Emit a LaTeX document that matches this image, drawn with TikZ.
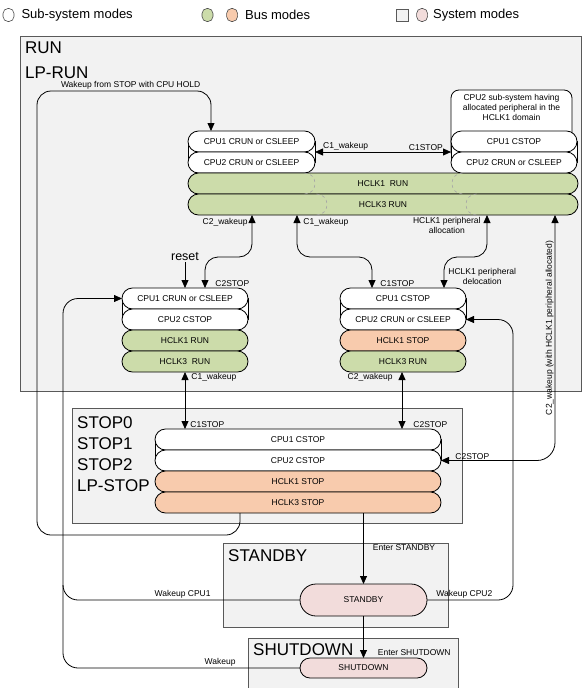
\documentclass[tikz,border=0pt]{standalone}
\usepackage{fontspec}
\setmainfont{Liberation Sans}
\usetikzlibrary{arrows.meta,positioning,calc}
\definecolor{BoxGray}{HTML}{F2F2F2}
\definecolor{BoxLine}{HTML}{595959}
\definecolor{BusGreen}{HTML}{CCDCAA}
\definecolor{BusOrange}{HTML}{F8CBAD}
\definecolor{SysPink}{HTML}{F2DCDB}
\definecolor{SeamGray}{HTML}{A6A6A6}
\newcommand{\tagfont}{\fontsize{8.5}{10}\selectfont}
\newcommand{\modefont}{\fontsize{17}{21}\selectfont}

\begin{document}
\begin{tikzpicture}[
    x=1pt, y=-1pt,
    modebox/.style={draw=BoxLine, fill=BoxGray, line width=0.8pt},
    modetitle/.style={font=\modefont, align=left, inner sep=0pt, anchor=base west},
    moderow/.style={draw, line width=0.8pt, rounded corners=10.5pt, minimum height=21pt, inner sep=0pt, outer sep=0pt, anchor=north west, font=\tagfont},
    cpurow/.style={moderow, fill=white},
    runrow/.style={moderow, fill=BusGreen},
    stoprow/.style={moderow, fill=BusOrange},
    backing/.style={draw, fill=white, line width=0.8pt, minimum height=21pt, inner sep=0pt, outer sep=0pt, anchor=north west},
    sysmode/.style={draw, line width=0.8pt, fill=SysPink, minimum width=127pt, inner sep=0pt, outer sep=0pt, font=\tagfont},
    seam/.style={draw=SeamGray, dashed, line width=0.6pt},
    link/.style={line width=0.8pt, rounded corners=13pt},
    arrow/.style={link, -{Triangle[length=8pt,width=7pt]}},
    twoway/.style={link, {Triangle[length=8pt,width=7pt]}-{Triangle[length=8pt,width=7pt]}},
    tag/.style={font=\tagfont, inner sep=1pt},
    legendkey/.style={draw=black!70, line width=0.6pt, minimum width=11pt, minimum height=13pt, inner sep=0pt, rounded corners=5pt},
    keytext/.style={font=\fontsize{13}{15}\selectfont, inner sep=0pt}
]
\useasboundingbox (0,0) rectangle (582,688);

% legend
\node[legendkey, fill=white] (keySub) at (8.5,15) {};
\node[keytext, right=7pt of keySub] (keySubText) {Sub-system modes};
\node[legendkey, fill=BusGreen] (keyBusRun) at (207.5,15) {};
\node[legendkey, fill=BusOrange, right=13pt of keyBusRun] (keyBusStop) {};
\node[keytext, right=7pt of keyBusStop] (keyBusText) {Bus modes};
\node[legendkey, fill=BoxGray, draw=BoxLine, rounded corners=0pt, minimum width=12pt, minimum height=12pt] (keySysBox) at (402,15) {};
\node[legendkey, fill=SysPink, right=8pt of keySysBox] (keySysNode) {};
\node[keytext, right=5pt of keySysNode] (keySysText) {System modes};

% system mode areas
\draw[modebox] (20,36) rectangle (581,391);
\draw[modebox] (72,408) rectangle (462,523);
\draw[modebox] (223,543) rectangle (448,627);
\draw[modebox] (248,638) rectangle (458,700);
\node[modetitle, font=\fontsize{17}{25}\selectfont] (runTitle) at (25,78) {RUN\\LP-RUN};
\node[modetitle] (stopTitle) at (77,491) {STOP0\\STOP1\\STOP2\\LP-STOP};
\node[modetitle] (standbyTitle) at (228,561) {STANDBY};
\node[modetitle] (shutdownTitle) at (253,655) {SHUTDOWN};

% RUN: both CPUs running
\node[backing, minimum width=127pt] (runPair) at (188,141.5) {};
\node[cpurow, minimum width=127pt, anchor=south west] (runCpuA) at (runPair.west) {CPU1 CRUN or CSLEEP};
\node[cpurow, minimum width=127pt] (runCpuB) at (runPair.west) {CPU2 CRUN or CSLEEP};
\node[runrow, minimum width=390pt] (runHclkA) at (runCpuB.south west) {HCLK1~ RUN};
\node[runrow, minimum width=390pt] (runHclkB) at (runHclkA.south west) {HCLK3 RUN};

% RUN: CPU2 sub-system with HCLK1 peripheral
\node[draw, fill=white, line width=0.8pt, rounded corners=8pt, minimum width=121pt, minimum height=70pt, anchor=north west, outer sep=0pt] (cpu2Domain) at (451,90) {};
\node[tag, align=center, below=3pt of cpu2Domain.north] (cpu2DomainText) {CPU2 sub-system having\\allocated peripheral in the\\HCLK1 domain};
\node[backing, minimum width=126pt] (rightPair) at (451,141.5) {};
\node[cpurow, minimum width=126pt, anchor=south west] (rightCpuA) at (rightPair.west) {CPU1 CSTOP};
\node[cpurow, minimum width=126pt] (rightCpuB) at (rightPair.west) {CPU2 CRUN or CSLEEP};

\draw[seam] ($(runHclkA.north west)+(116.5,0)$) .. controls +(14,0) and +(14,0) .. ($(runHclkA.south west)+(116.5,0)$);
\draw[seam] ($(runHclkB.north west)+(128.5,0)$) .. controls +(14,0) and +(14,0) .. ($(runHclkB.south west)+(128.5,0)$);
\draw[seam] ($(runHclkA.north west)+(274.5,0)$) .. controls +(-14,0) and +(-14,0) .. ($(runHclkA.south west)+(274.5,0)$);
\draw[seam] ($(runHclkB.north west)+(288.5,0)$) .. controls +(-14,0) and +(-14,0) .. ($(runHclkB.south west)+(288.5,0)$);

% RUN: CPU2 stopped
\node[backing, minimum width=126pt] (leftPair) at (122,298.5) {};
\node[cpurow, minimum width=126pt, anchor=south west] (leftCpuA) at (leftPair.west) {CPU1 CRUN or CSLEEP};
\node[cpurow, minimum width=126pt] (leftCpuB) at (leftPair.west) {CPU2 CSTOP};
\node[runrow, minimum width=126pt] (leftHclkA) at (leftCpuB.south west) {HCLK1 RUN};
\node[runrow, minimum width=126pt] (leftHclkB) at (leftHclkA.south west) {HCLK3~ RUN};

% RUN: CPU1 stopped
\node[backing, minimum width=126pt] (midPair) at (340,298.5) {};
\node[cpurow, minimum width=126pt, anchor=south west] (midCpuA) at (midPair.west) {CPU1 CSTOP};
\node[cpurow, minimum width=126pt] (midCpuB) at (midPair.west) {CPU2 CRUN or CSLEEP};
\node[stoprow, minimum width=126pt] (midHclkA) at (midCpuB.south west) {HCLK1 STOP};
\node[runrow, minimum width=126pt] (midHclkB) at (midHclkA.south west) {HCLK3 RUN};

% STOP
\node[backing, minimum width=286pt] (stopPair) at (155,439.5) {};
\node[cpurow, minimum width=286pt, anchor=south west] (stopCpuA) at (stopPair.west) {CPU1 CSTOP};
\node[cpurow, minimum width=286pt] (stopCpuB) at (stopPair.west) {CPU2 CSTOP};
\node[stoprow, minimum width=286pt] (stopHclkA) at (stopCpuB.south west) {HCLK1 STOP};
\node[stoprow, minimum width=286pt] (stopHclkB) at (stopHclkA.south west) {HCLK3 STOP};

% STANDBY and SHUTDOWN
\node[sysmode, minimum height=32pt, rounded corners=16pt] (standby) at (363.5,600) {STANDBY};
\node[sysmode, minimum height=20pt, rounded corners=10pt] (shutdown) at (363.5,668) {SHUTDOWN};

% transitions
\draw[twoway] (runCpuA.south east) -- (rightCpuA.south west)
    node[tag, pos=0.05, anchor=south west] {C1\_wakeup}
    node[tag, pos=0.95, anchor=south east] {C1STOP};
\draw[twoway] ($(leftCpuA.north west)+(83,0)$) node[tag, anchor=south west, xshift=9pt] {C2STOP}
    |- ($(runHclkB.south west)+(64,42)$) -- ($(runHclkB.south west)+(64,0)$)
    node[tag, anchor=north east, xshift=-3pt, yshift=-2pt] {C2\_wakeup};
\node[font=\fontsize{12.5}{14}\selectfont, inner sep=1pt] (reset) at (185,257) {reset};
\draw[arrow] (reset) -- (reset |- leftCpuA.north);
\draw[twoway] ($(runHclkB.south west)+(109,0)$) node[tag, anchor=north west, xshift=5pt, yshift=-2pt] {C1\_wakeup}
    |- ($(midCpuA.north west)+(32,-31)$) -- ($(midCpuA.north west)+(32,0)$)
    node[tag, anchor=south west, xshift=7pt] {C1STOP};
\draw[twoway] ($(runHclkB.south west)+(299,0)$) node[tag, align=center, anchor=north east, xshift=-5pt, yshift=-1pt] {HCLK1 peripheral\\allocation}
    |- ($(midCpuA.north west)+(104,-31)$) -- ($(midCpuA.north west)+(104,0)$)
    node[tag, align=center, anchor=south west, xshift=3pt, yshift=2pt] {HCLK1 peripheral\\delocation};
\draw[twoway, rounded corners=18pt] ($(runHclkB.south west)+(367,0)$) |- (stopCpuB.east)
    node[tag, pos=0.23, rotate=90, anchor=south] {C2\_wakeup (with HCLK1 peripheral allocated)}
    node[tag, pos=1, anchor=south west, xshift=13pt] {C2STOP};
\draw[twoway] ($(leftHclkB.south west)+(63,0)$) node[tag, anchor=north west, xshift=5pt] {C1\_wakeup}
    -- ($(stopCpuA.north west)+(30,0)$) node[tag, anchor=south west, xshift=4pt] {C1STOP};
\draw[twoway] ($(midHclkB.south west)+(62,0)$) node[tag, anchor=north east, xshift=-8pt] {C2\_wakeup}
    -- ($(stopCpuA.north west)+(247,0)$) node[tag, anchor=south west, xshift=10pt] {C2STOP};
\draw[arrow, rounded corners=14pt] ($(stopHclkB.south west)+(85,0)$) -- ++(0,22) -- ++(-203,0) -- ++(0,-444)
    -- ++(174,0) node[tag, pos=0.13, anchor=south west] {Wakeup from STOP with CPU HOLD}
    -- ($(runCpuA.north west)+(23,0)$);
\draw[arrow] (standby.north |- stopHclkB.south) -- (standby.north)
    node[tag, pos=0.48, anchor=west, xshift=8pt] {Enter STANDBY};
\draw[arrow] (standby.south) -- (shutdown.north)
    node[tag, pos=0.88, anchor=west, xshift=13pt] {Enter SHUTDOWN};
\draw[arrow, rounded corners=15pt] (standby.west) -- ++(-88,0) node[tag, anchor=south east] {Wakeup CPU1}
    -| ($(leftCpuA.west)+(-59,0)$) -- (leftCpuA.west);
\draw[link, rounded corners=15pt] (shutdown.west) -- ++(-63,0) node[tag, anchor=south east] {Wakeup}
    -| ($(standby.west)+(-237,-15)$);
\draw[arrow, rounded corners=15pt] (standby.east) node[tag, anchor=south west, xshift=8pt] {Wakeup CPU2}
    -| ($(midCpuB.east)+(47,0)$) -- (midCpuB.east);
\end{tikzpicture}
\end{document}
